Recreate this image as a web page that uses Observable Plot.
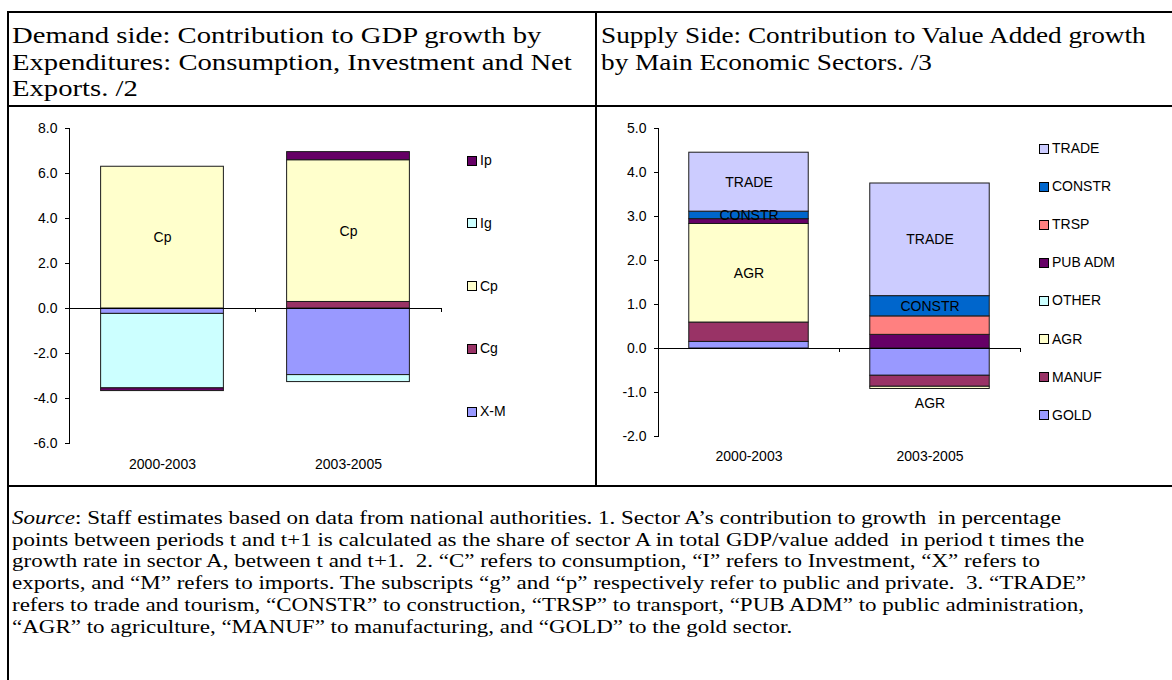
<!DOCTYPE html>
<html>
<head>
<meta charset="utf-8">
<script src="https://cdn.jsdelivr.net/npm/d3@7"></script>
<script src="https://cdn.jsdelivr.net/npm/@observablehq/plot@0.6"></script>
<style>
  html, body { margin: 0; padding: 0; background: #fff; }
  body { width: 1172px; height: 680px; overflow: hidden; position: relative; font-family: "Liberation Serif", "Times New Roman", serif; color: #000; }
  .rule { position: absolute; background: #000; }
  .block { position: absolute; }
  .block div { transform-origin: 0 0; white-space: pre; }
  .hdr { font-size: 23.5px; line-height: 26.5px; }
  .hdrL div { transform: scaleX(1.22); }
  .hdrR div { transform: scaleX(1.16); }
  .foot { font-size: 19px; line-height: 21.7px; }
  .foot div { transform: scaleX(1.21); }
  .chart { position: absolute; }
  .legend { position: absolute; font-family: "Liberation Sans", Arial, sans-serif; font-size: 14px; }
  .legend .sw { position: absolute; box-sizing: border-box; border: 1px solid #000; }
  .legend .lab { position: absolute; line-height: 16px; white-space: nowrap; }
</style>
</head>
<body>
<div class="rule" style="left:7px;top:11px;width:1170px;height:2px"></div>
<div class="rule" style="left:7px;top:11px;width:2px;height:680px"></div>
<div class="rule" style="left:7px;top:105px;width:1170px;height:2px"></div>
<div class="rule" style="left:7px;top:485px;width:1170px;height:2px"></div>
<div class="rule" style="left:595px;top:11px;width:2px;height:476px"></div>

<div class="block hdr hdrL" style="left:12px;top:22px"><div>Demand side: Contribution to GDP growth by</div><div>Expenditures: Consumption, Investment and Net</div><div>Exports. /2</div></div>
<div class="block hdr hdrR" style="left:601px;top:22px"><div>Supply Side: Contribution to Value Added growth</div><div>by Main Economic Sectors. /3</div></div>

<div class="block foot" style="left:12px;top:507px"><div><i>Source</i>: Staff estimates based on data from national authorities. 1. Sector A’s contribution to growth  in percentage</div><div>points between periods t and t+1 is calculated as the share of sector A in total GDP/value added  in period t times the</div><div>growth rate in sector A, between t and t+1.  2. “C” refers to consumption, “I” refers to Investment, “X” refers to</div><div>exports, and “M” refers to imports. The subscripts “g” and “p” respectively refer to public and private.  3. “TRADE”</div><div>refers to trade and tourism, “CONSTR” to construction, “TRSP” to transport, “PUB ADM” to public administration,</div><div>“AGR” to agriculture, “MANUF” to manufacturing, and “GOLD” to the gold sector.</div></div>

<div id="left" class="chart" style="left:9px;top:107px"></div>
<div id="right" class="chart" style="left:597px;top:107px"></div>
<div id="legendLeft" class="legend" style="left:0;top:0"></div>
<div id="legendRight" class="legend" style="left:0;top:0"></div>

<script>
// ---------- data ----------
const periods = ["2000-2003", "2003-2005"];

// Demand side (series in stacking order, bottom first)
const demandSeries = ["X-M", "Cg", "Cp", "Ig", "Ip"];
const demandXM = [-0.24, -2.96];
const demandCg = [0.00, 0.29];
const demandCp = [6.30, 6.30];
const demandIg = [-3.31, -0.31];
const demandIp = [-0.12, 0.36];
const demandColors = ["#9999FF", "#993366", "#FFFFCC", "#CCFFFF", "#660066"];
const demandTicks = [-6, -4, -2, 0, 2, 4, 6, 8];
const demandLabels = [["2000-2003", "Cp"], ["2003-2005", "Cp"]];

// Supply side (series in stacking order, bottom first)
const supplySeries = ["GOLD", "MANUF", "AGR", "OTHER", "PUB ADM", "TRSP", "CONSTR", "TRADE"];
const supplyGOLD = [0.15, -0.62];
const supplyMANUF = [0.44, -0.25];
const supplyAGR = [2.24, -0.05];
const supplyOTHER = [0.00, 0.00];
const supplyPUBADM = [0.11, 0.31];
const supplyTRSP = [0.00, 0.42];
const supplyCONSTR = [0.17, 0.46];
const supplyTRADE = [1.34, 2.56];
const supplyColors = ["#9999FF", "#993366", "#FFFFCC", "#CCFFFF", "#660066", "#FF8080", "#0066CC", "#CCCCFF"];
const supplyTicks = [-2, -1, 0, 1, 2, 3, 4, 5];
const supplyLabels = [["2000-2003", "TRADE"], ["2000-2003", "CONSTR"], ["2000-2003", "AGR"],
                      ["2003-2005", "TRADE"], ["2003-2005", "CONSTR"]];
const supplyOutsideLabels = [["2003-2005", "AGR"]];

// ---------- build ----------
function table(series, values) {
  const rows = [];
  series.forEach((s, si) => periods.forEach((p, pi) =>
    rows.push({series: s, period: p, i: pi, value: values[si][pi]})));
  return rows;
}

function makeChart(o) {
  const data = table(o.series, o.values);
  const has = (list, d) => list.some(([p, s]) => p === d.period && s === d.series);
  const n = periods.length;
  const innerH = o.height - o.marginTop - o.marginBottom;
  const tickLen = 4 * (o.yDomain[1] - o.yDomain[0]) / innerH;
  const marks = [
    Plot.rectY(data, Plot.stackY({
      x: "i", x1: d => d.i + 0.17, x2: d => d.i + 0.83, y: "value",
      fill: "series", stroke: "#1a1a1a", strokeWidth: 1
    })),
    Plot.ruleY([0], {stroke: "#000", strokeWidth: 1}),
    Plot.ruleX(d3.range(n + 1), {y1: 0, y2: -tickLen, stroke: "#000"}),
    Plot.text(data, Plot.stackY({
      x: d => d.i + 0.5, y: "value",
      text: d => has(o.labels, d) ? d.series : "",
      fill: "#000", fontSize: 14
    }))
  ];
  if (o.outside) {
    marks.push(Plot.text(data, Plot.stackY2({
      x: d => d.i + 0.5, y: "value",
      text: d => has(o.outside, d) ? d.series : "",
      fill: "#000", fontSize: 14, dy: 15
    })));
  }
  return Plot.plot({
    width: o.width, height: o.height,
    marginLeft: o.marginLeft, marginRight: o.marginRight,
    marginTop: o.marginTop, marginBottom: o.marginBottom,
    style: {background: "transparent", fontFamily: "'Liberation Sans', Arial, sans-serif", fontSize: "14px", color: "#000", overflow: "visible"},
    x: {domain: [0, n], ticks: periods.map((p, i) => i + 0.5), tickFormat: v => periods[Math.round(v - 0.5)],
        tickSize: 0, tickPadding: o.xPad, label: null},
    y: {domain: o.yDomain, ticks: o.ticks, tickFormat: v => v.toFixed(1), tickSize: 4, tickPadding: 8,
        line: true, label: null},
    color: {domain: o.series, range: o.colors},
    marks
  });
}

function makeLegend(el, series, colors, o) {
  const order = series.map((s, i) => i).reverse();
  order.forEach((si, k) => {
    const cy = o.top + k * o.step;
    const sw = document.createElement("div");
    sw.className = "sw";
    sw.style.cssText = `left:${o.left}px;top:${cy - o.size / 2}px;width:${o.size}px;height:${o.size}px;background:${colors[si]}`;
    const lab = document.createElement("div");
    lab.className = "lab";
    lab.textContent = series[si];
    lab.style.cssText = `left:${o.left + o.size + 3}px;top:${cy - 8.5}px`;
    el.appendChild(sw);
    el.appendChild(lab);
  });
}

document.getElementById("left").appendChild(makeChart({
  series: demandSeries,
  values: [demandXM, demandCg, demandCp, demandIg, demandIp],
  colors: demandColors, yDomain: [-6, 8], ticks: demandTicks,
  labels: demandLabels,
  width: 586, height: 378, marginLeft: 60, marginRight: 154, marginTop: 21, marginBottom: 42, xPad: 16
}));

document.getElementById("right").appendChild(makeChart({
  series: supplySeries,
  values: [supplyGOLD, supplyMANUF, supplyAGR, supplyOTHER, supplyPUBADM, supplyTRSP, supplyCONSTR, supplyTRADE],
  colors: supplyColors, yDomain: [-2, 5], ticks: supplyTicks,
  labels: supplyLabels, outside: supplyOutsideLabels,
  width: 575, height: 378, marginLeft: 61, marginRight: 152, marginTop: 21, marginBottom: 49, xPad: 15
}));

makeLegend(document.getElementById("legendLeft"), demandSeries, demandColors, {left: 467, top: 160.7, step: 62.75, size: 10});
makeLegend(document.getElementById("legendRight"), supplySeries, supplyColors, {left: 1039, top: 148.5, step: 38.1, size: 10});
</script>
</body>
</html>
